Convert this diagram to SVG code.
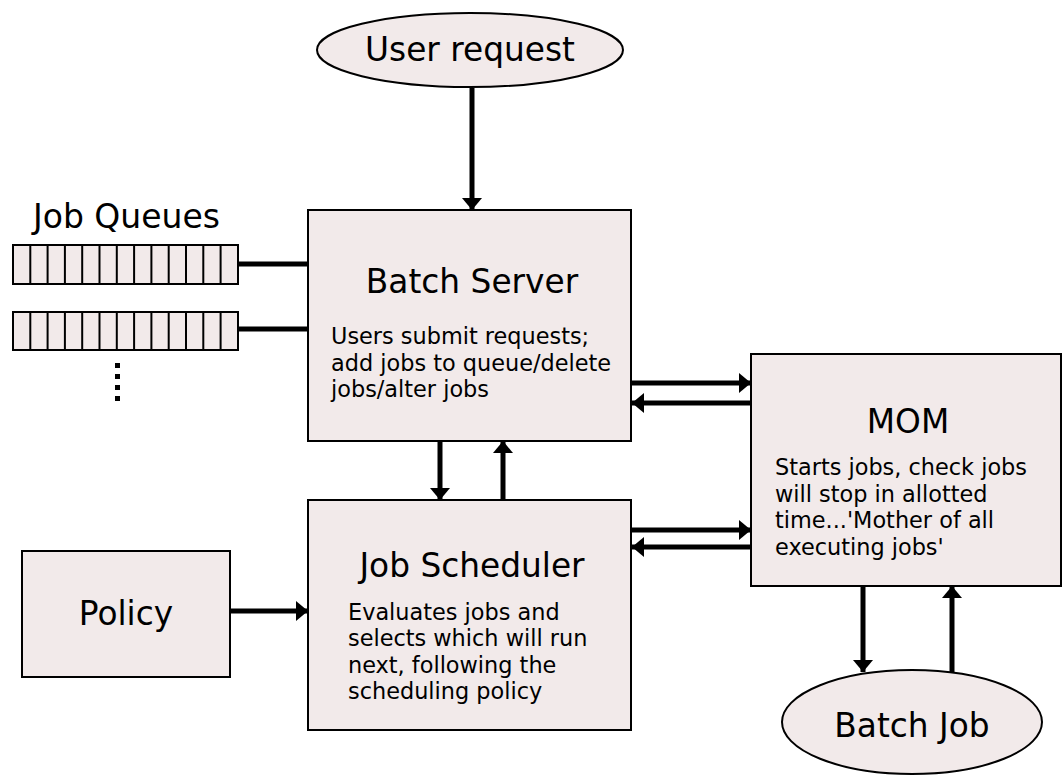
<svg xmlns="http://www.w3.org/2000/svg" width="1062" height="775" viewBox="0 0 1062 775">
<style>
.box{fill:#f2eaea;stroke:#000;stroke-width:2}
.cell{fill:#f2eaea;stroke:#000;stroke-width:2}
.t{font-family:"DejaVu Sans",sans-serif;fill:#000}
.title{font-size:32.8px;text-anchor:middle}
.body{font-size:22.4px}
.c{stroke:#000;stroke-width:5;fill:none}
.ca{stroke:#000;stroke-width:5;fill:none;marker-end:url(#ah)}
</style>
<defs>
<marker id="ah" markerUnits="userSpaceOnUse" markerWidth="12" markerHeight="20" viewBox="0 0 12 20" refX="12" refY="10" orient="auto">
<path d="M0,0 L12,10 L0,20 Z" fill="#000"/>
</marker>
</defs>
<g id="connectors">
<line class="ca" x1="472" y1="88" x2="472" y2="210"/>
<line class="c" x1="238" y1="264" x2="308" y2="264"/>
<line class="c" x1="238" y1="329" x2="308" y2="329"/>
<line class="ca" x1="632" y1="383" x2="751" y2="383"/>
<line class="ca" x1="751" y1="403" x2="632" y2="403"/>
<line class="ca" x1="632" y1="530" x2="751" y2="530"/>
<line class="ca" x1="751" y1="547" x2="632" y2="547"/>
<line class="ca" x1="440" y1="441" x2="440" y2="500"/>
<line class="ca" x1="503" y1="500" x2="503" y2="441"/>
<line class="ca" x1="230" y1="611" x2="308" y2="611"/>
<line class="ca" x1="863" y1="586" x2="863" y2="672"/>
<line class="ca" x1="952" y1="672" x2="952" y2="586"/>
</g>
<g id="user-request">
<ellipse class="box" cx="470" cy="50" rx="153" ry="37"/>
<text class="t title" x="470" y="61">User request</text>
</g>
<g id="job-queues">
<text class="t" x="33" y="228" style="font-size:33px">Job Queues</text>
<g id="queue1">
<rect class="cell" x="13" y="245" width="225" height="39"/>
<path d="M30.3,245V284M47.6,245V284M64.9,245V284M82.2,245V284M99.5,245V284M116.8,245V284M134.1,245V284M151.4,245V284M168.7,245V284M186,245V284M203.3,245V284M220.6,245V284" stroke="#000" stroke-width="2"/>
</g>
<g id="queue2">
<rect class="cell" x="13" y="312" width="225" height="38"/>
<path d="M30.3,312V350M47.6,312V350M64.9,312V350M82.2,312V350M99.5,312V350M116.8,312V350M134.1,312V350M151.4,312V350M168.7,312V350M186,312V350M203.3,312V350M220.6,312V350" stroke="#000" stroke-width="2"/>
</g>
<g id="ellipsis" fill="#000">
<rect x="115" y="363" width="5" height="5"/>
<rect x="115" y="374" width="5" height="5"/>
<rect x="115" y="385" width="5" height="5"/>
<rect x="115" y="396" width="5" height="5"/>
</g>
</g>
<g id="batch-server">
<rect class="box" x="308" y="210" width="323" height="231"/>
<text class="t title" x="472" y="293">Batch Server</text>
<text class="t body" x="331" y="344">Users submit requests;</text>
<text class="t body" x="331" y="371">add jobs to queue/delete</text>
<text class="t body" x="331" y="397">jobs/alter jobs</text>
</g>
<g id="mom">
<rect class="box" x="751" y="354" width="310" height="232"/>
<text class="t title" x="908" y="433">MOM</text>
<text class="t body" x="775" y="475">Starts jobs, check jobs</text>
<text class="t body" x="775" y="502">will stop in allotted</text>
<text class="t body" x="775" y="528">time...'Mother of all</text>
<text class="t body" x="775" y="555">executing jobs'</text>
</g>
<g id="job-scheduler">
<rect class="box" x="308" y="500" width="323" height="230"/>
<text class="t title" x="472" y="577">Job Scheduler</text>
<text class="t body" x="348" y="620">Evaluates jobs and</text>
<text class="t body" x="348" y="646">selects which will run</text>
<text class="t body" x="348" y="673">next, following the</text>
<text class="t body" x="348" y="699">scheduling policy</text>
</g>
<g id="policy">
<rect class="box" x="22" y="551" width="208" height="126"/>
<text class="t title" x="126" y="625">Policy</text>
</g>
<g id="batch-job">
<ellipse class="box" cx="912" cy="722" rx="130" ry="52"/>
<text class="t title" x="912" y="737">Batch Job</text>
</g>
</svg>
